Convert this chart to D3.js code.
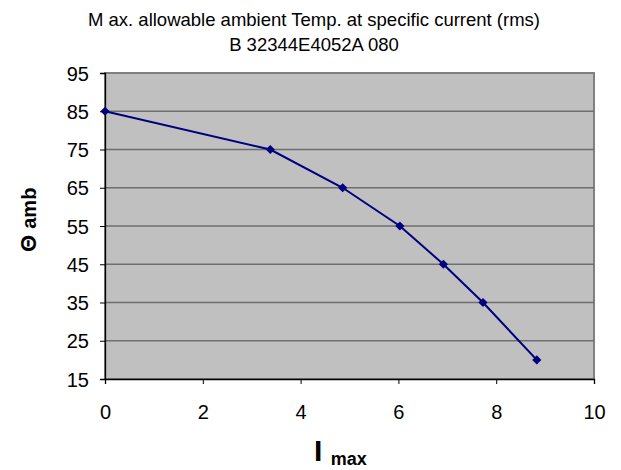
<!DOCTYPE html>
<html>
<head>
<meta charset="utf-8">
<script src="https://cdn.jsdelivr.net/npm/d3@7"></script>
<style>
  body { margin: 0; background: #fff; }
  text { font-family: "Liberation Sans", Arial, sans-serif; }
</style>
</head>
<body>
<svg width="621" height="470"></svg>
<script>
// current (A rms) vs max ambient temperature
var currents = [0, 3.38, 4.86, 6.03, 6.92, 7.73, 8.83];
var temps = [85, 75, 65, 55, 45, 35, 20];
var xTicks = [0, 2, 4, 6, 8, 10];
var yTicks = [15, 25, 35, 45, 55, 65, 75, 85, 95];
var titleLines = ["M ax. allowable ambient Temp. at specific current (rms)", "B 32344E4052A 080"];

var svg = d3.select("svg"),
    margin = {top: 73, right: 27, bottom: 91, left: 105},
    width = 621 - margin.left - margin.right,
    height = 470 - margin.top - margin.bottom;

var x = d3.scaleLinear().domain([0, 10]).range([0, width]);
var y = d3.scaleLinear().domain([15, 95]).range([height, 0]);

var g = svg.append("g")
    .attr("transform", "translate(" + margin.left + "," + margin.top + ")");

// plot background
g.append("rect")
    .attr("width", width)
    .attr("height", height)
    .attr("fill", "#c0c0c0")
    .attr("stroke", "#808080")
    .attr("stroke-width", 2);

// gridlines
g.append("g")
  .selectAll("line")
  .data(yTicks.slice(1, -1))
  .enter().append("line")
    .attr("x1", 0).attr("x2", width)
    .attr("y1", function(d) { return y(d); })
    .attr("y2", function(d) { return y(d); })
    .attr("stroke", "#6e6e6e")
    .attr("stroke-width", 1.3);

var xAxis = g.append("g")
    .attr("transform", "translate(0," + height + ")")
    .call(d3.axisBottom(x).tickValues(xTicks).tickSize(5).tickPadding(21));

var yAxis = g.append("g")
    .call(d3.axisLeft(y).tickValues(yTicks).tickSize(5).tickPadding(11));

[xAxis, yAxis].forEach(function(a) {
  a.select(".domain").attr("stroke", "#000").attr("stroke-width", 1.3);
  a.selectAll(".tick line").attr("stroke", "#000");
  a.selectAll(".tick text")
      .attr("font-size", 20)
      .attr("font-family", "Liberation Sans, Arial, sans-serif")
      .attr("fill", "#000");
});
yAxis.selectAll(".tick text").attr("dy", "0.36em");

// data line
var pts = currents.map(function(c, i) { return {x: c, y: temps[i]}; });

g.append("path")
    .datum(pts)
    .attr("fill", "none")
    .attr("stroke", "#000080")
    .attr("stroke-width", 2)
    .attr("d", d3.line()
        .x(function(d) { return x(d.x); })
        .y(function(d) { return y(d.y); }));

g.append("g")
  .selectAll("path")
  .data(pts)
  .enter().append("path")
    .attr("d", d3.symbol().type(d3.symbolSquare).size(42))
    .attr("transform", function(d) {
      return "translate(" + x(d.x) + "," + y(d.y) + ") rotate(45)";
    })
    .attr("fill", "#000080");

// title
svg.append("g")
  .selectAll("text")
  .data(titleLines)
  .enter().append("text")
    .attr("x", 314)
    .attr("y", function(d, i) { return 26 + i * 25; })
    .attr("text-anchor", "middle")
    .attr("font-size", 18.5)
    .attr("fill", "#000")
    .text(function(d) { return d; });

// x axis title
var xt = svg.append("text")
    .attr("x", 314)
    .attr("y", 461)
    .attr("font-weight", "bold")
    .attr("fill", "#000");
xt.append("tspan").attr("font-size", 30).text("I ");
xt.append("tspan").attr("font-size", 18).attr("dy", 4).text("max");

// y axis title
var yt = svg.append("text")
    .attr("transform", "translate(36,252) rotate(-90)")
    .attr("font-weight", "bold")
    .attr("fill", "#000");
yt.append("tspan").attr("font-size", 22).text("Θ ");
yt.append("tspan").attr("font-size", 20).text("amb");
</script>
</body>
</html>
